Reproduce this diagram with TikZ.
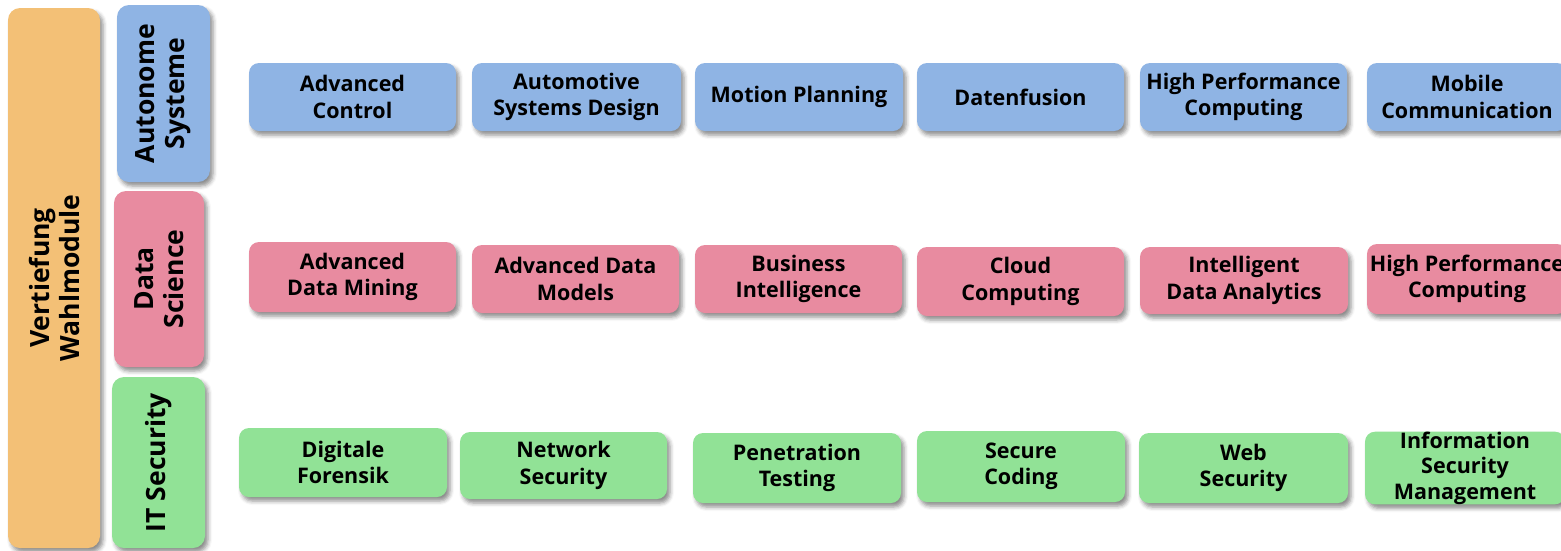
\documentclass[tikz,border=0pt]{standalone}
\usepackage{fontspec}
\setmainfont{Open Sans}
\usetikzlibrary{shadows.blur}
\definecolor{cblue}{RGB}{143,180,228}
\definecolor{cpink}{RGB}{232,139,160}
\definecolor{cgreen}{RGB}{145,226,150}
\definecolor{corange}{RGB}{243,192,118}
\tikzset{
  modbox/.style={rounded corners=10pt, inner sep=0pt, align=center,
    blur shadow={shadow xshift=3pt, shadow yshift=-4pt, shadow blur radius=4pt, shadow opacity=45},
    font=\fontsize{21.5}{26.5}\selectfont\bfseries},
  bluebox/.style={modbox, fill=cblue},
  pinkbox/.style={modbox, fill=cpink},
  greenbox/.style={modbox, fill=cgreen},
  sidebar/.style={rounded corners=12pt, inner sep=0pt, align=center, rotate=90,
    blur shadow={shadow xshift=3pt, shadow yshift=-4pt, shadow blur radius=4pt, shadow opacity=45},
    font=\fontsize{26.5}{30}\selectfont\bfseries}
}
\begin{document}
\begin{tikzpicture}[x=1pt,y=-1pt]
\useasboundingbox (0,0) rectangle (1561,550);
% left bars
\node[sidebar, fill=corange, minimum width=540, minimum height=92] (vw) at (54,278) {Vertiefung\\Wahlmodule};
\node[sidebar, fill=cblue, minimum width=177, minimum height=93] (as) at (163.5,93.5) {Autonome\\Systeme};
\node[sidebar, fill=cpink, minimum width=176, minimum height=90] (ds) at (159,279) {Data\\Science};
\node[sidebar, fill=cgreen, minimum width=171, minimum height=93] (its) at (158.5,462.5) {IT Security};
% row 1
\node[bluebox, minimum width=207, minimum height=68] (b1) at (352.5,97) {Advanced\\Control};
\node[bluebox, minimum width=209, minimum height=68] (b2) at (576.5,97) {Automotive\\Systems Design};
\node[bluebox, minimum width=208, minimum height=68] (b3) at (799,97) {Motion Planning};
\node[bluebox, minimum width=207, minimum height=68] (b4) at (1020.5,97) {Datenfusion};
\node[bluebox, minimum width=207, minimum height=68] (b5) at (1243.5,97) {High Performance\\Computing};
\node[bluebox, minimum width=200, minimum height=68] (b6) at (1467,97) {Mobile\\Communication};
% row 2
\node[pinkbox, minimum width=207, minimum height=70] (p1) at (352.5,277) {Advanced\\Data Mining};
\node[pinkbox, minimum width=207, minimum height=68] (p2) at (575.5,279) {Advanced Data\\Models};
\node[pinkbox, minimum width=207, minimum height=68] (p3) at (798.5,279) {Business\\Intelligence};
\node[pinkbox, minimum width=207, minimum height=69] (p4) at (1020.5,281.5) {Cloud\\Computing};
\node[pinkbox, minimum width=208, minimum height=67] (p5) at (1244,280.5) {Intelligent\\Data Analytics};
\node[pinkbox, minimum width=200, minimum height=70] (p6) at (1467,279) {High Performance\\Computing};
% row 3
\node[greenbox, minimum width=208, minimum height=69] (g1) at (343,462.5) {Digitale\\Forensik};
\node[greenbox, minimum width=207, minimum height=67] (g2) at (563.5,465.5) {Network\\Security};
\node[greenbox, minimum width=208, minimum height=70] (g3) at (797,468) {Penetration\\Testing};
\node[greenbox, minimum width=208, minimum height=71] (g4) at (1021,466.5) {Secure\\Coding};
\node[greenbox, minimum width=209, minimum height=70] (g5) at (1243.5,468) {Web\\Security};
\node[greenbox, minimum width=200, minimum height=70, font=\fontsize{21.5}{25.5}\selectfont\bfseries] (g6) at (1465,468) {Information\\Security\\Management};
\end{tikzpicture}
\end{document}
